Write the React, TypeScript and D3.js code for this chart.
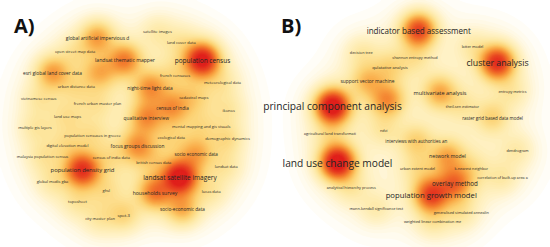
import React, { useMemo } from "react";
import * as d3 from "d3";

const W = 550;
const H = 247;

// Panel A: item labels, map coordinates and occurrence weights
const labelsA = [
  "satellite images", "global artificial impervious d", "land cover data", "open street map data",
  "landsat thematic mapper", "population census", "esri global land cover data", "french censuses",
  "meteorological data", "urban distance data", "night-time light data", "cadastral maps",
  "vietnamese census", "french urban master plan", "census of india", "ikonos", "land use maps",
  "qualitative interview", "multiple gis layers", "mental mapping and gis visuals",
  "population censuses in greece", "ecological data", "demographic dynamics", "digital elevation model",
  "focus groups discussion", "socio economic data", "malaysia population census", "census of india data",
  "british census data", "landsat data", "population density grid", "landsat satellite imagery",
  "global modis gba", "ghsl", "households survey", "lucas data", "toposheet", "socio-economic data",
  "spot-3", "city master plan", "",
];
const xA = [
  0.18, -0.30, 0.37, -0.48, -0.08, 0.54, -0.66, 0.32, 0.70, -0.47, 0.12, 0.47, -0.77, -0.30, 0.30,
  0.75, -0.54, 0.09, -0.80, 0.53, -0.34, 0.29, 0.74, -0.54, 0.02, 0.49, -0.74, -0.19, 0.15, 0.73,
  -0.42, 0.36, -0.66, -0.23, 0.16, 0.61, -0.46, 0.38, -0.09, -0.28, -0.28,
];
const yA = [
  0.75, 0.70, 0.66, 0.59, 0.52, 0.52, 0.42, 0.40, 0.34, 0.31, 0.30, 0.22, 0.21, 0.17, 0.14, 0.12,
  0.07, 0.06, -0.02, -0.01, -0.08, -0.10, -0.11, -0.16, -0.17, -0.23, -0.25, -0.26, -0.30, -0.33,
  -0.36, -0.42, -0.45, -0.52, -0.54, -0.53, -0.61, -0.67, -0.72, -0.75, 0.42,
];
const weightA = [
  1, 4, 1, 1, 5, 10, 4, 1, 1, 1, 4, 1.5, 1, 1, 3.5, 1, 1, 4, 1, 1, 1, 1, 1.5, 1, 4, 3, 1, 1, 1, 1,
  8, 10, 1, 1, 5, 1, 1, 3.5, 2, 1, 3,
];

// Panel B
const labelsB = [
  "indicator based assessment", "latter model", "decision tree", "shannon entropy method",
  "cluster analysis", "qulatative analysis", "support vector machine", "multivariate analysis",
  "entropy metrics", "principal component analysis", "theil-sen estimator", "raster grid based data model",
  "ndvi", "agricultural land transformati", "interviews with authorities an", "dendrogram",
  "network model", "land use change model", "urban extent model", "k-nearest neighbor",
  "correlation of built-up area a", "overlay method", "analytical hierarchy process",
  "population growth model", "mann-kendall significance test", "generalised simulated annealin",
  "weighted linear combination me", "",
];
const xB = [
  0.07, 0.50, -0.39, 0.04, 0.70, -0.16, -0.34, 0.24, 0.82, -0.62, 0.42, 0.66, -0.21, -0.64, 0.05,
  0.86, 0.30, -0.58, 0.06, 0.49, 0.74, 0.36, -0.47, 0.17, -0.27, 0.41, 0.18, -0.18,
];
const yB = [
  0.76, 0.63, 0.58, 0.54, 0.50, 0.46, 0.35, 0.26, 0.27, 0.15, 0.15, 0.06, -0.04, -0.07, -0.13,
  -0.20, -0.25, -0.30, -0.35, -0.35, -0.42, -0.47, -0.50, -0.56, -0.67, -0.70, -0.77, 0.20,
];
const weightB = [
  7, 1, 1, 1, 8, 1.5, 2.5, 3.5, 1, 10, 1, 2, 1, 1, 2, 1, 3, 10, 1, 1, 1, 4.5, 1, 6.5, 1, 1, 1, 4,
];

const heat = d3
  .scaleLinear<string>()
  .domain([0, 0.03, 0.08, 0.17, 0.27, 0.38, 0.5, 0.66, 0.85])
  .range(["#ffffff", "#fffaea", "#fff2c8", "#fde7a0", "#fcd273", "#f9ab48", "#f37f2e", "#e94b23", "#e0201c"])
  .clamp(true);

interface PanelProps {
  tag: string;
  tagX: number;
  labels: string[];
  xs: number[];
  ys: number[];
  ws: number[];
  cx: number;
  font: d3.ScaleLinear<number, number>;
}

const Panel: React.FC<PanelProps> = ({ tag, tagX, labels, xs, ys, ws, cx, font }) => {
  const x = d3.scaleLinear().domain([-1, 1]).range([cx - 125, cx + 125]);
  const y = d3.scaleLinear().domain([-1, 1]).range([250, 0]);

  const step = 2;
  const gw = Math.ceil(W / step);
  const gh = Math.ceil(H / step);

  const contours = useMemo(() => {
    const px = xs.map((v) => x(v));
    const py = ys.map((v) => y(v));
    const values = new Array(gw * gh).fill(0);
    const s1 = 2 * 11 * 11;
    const s2 = 2 * 23 * 23;
    for (let j = 0; j < gh; j++) {
      const gy = (j + 0.5) * step;
      for (let i = 0; i < gw; i++) {
        const gx = (i + 0.5) * step;
        let d = 0;
        for (let k = 0; k < px.length; k++) {
          const r2 = (gx - px[k]) ** 2 + (gy - py[k]) ** 2;
          d += ws[k] * Math.exp(-r2 / s1) + (0.4 + 0.06 * ws[k]) * Math.exp(-r2 / s2);
        }
        values[j * gw + i] = d;
      }
    }
    const max = d3.max(values) || 1;
    const levels = d3.range(0.012, 1.0001, 0.012);
    return d3
      .contours()
      .size([gw, gh])
      .thresholds(levels.map((t) => t * max))(values)
      .map((c, i) => ({ c, t: levels[i] }));
  }, [xs, ys, ws]);

  const path = d3.geoPath();
  const order = d3.range(labels.length).sort((a, b) => ws[a] - ws[b]);

  return (
    <g>
      <g transform={`scale(${step})`}>
        {contours.map(({ c, t }, i) => (
          <path key={i} d={path(c as any) || ""} fill={heat(t)} />
        ))}
      </g>
      {order.map((k) =>
        labels[k] ? (
          <text
            key={k}
            x={x(xs[k])}
            y={y(ys[k])}
            textAnchor="middle"
            dominantBaseline="central"
            fontFamily="'Open Sans', sans-serif"
            fontSize={font(ws[k])}
            fill="#262626"
          >
            {labels[k]}
          </text>
        ) : null
      )}
      <text x={tagX} y={33} fontFamily="'Open Sans', sans-serif" fontWeight="bold" fontSize={20} fill="#111">
        {tag}
      </text>
    </g>
  );
};

export default function App() {
  const fontA = d3.scaleLinear().domain([1, 10]).range([4.0, 6.5]);
  const fontB = d3.scaleLinear().domain([1, 10]).range([3.8, 10.2]);
  return (
    <svg
      width={W}
      height={H}
      style={{ position: "absolute", left: 0, top: 0, background: "#fff" }}
    >
      <Panel tag="A)" tagX={14} labels={labelsA} xs={xA} ys={yA} ws={weightA} cx={135} font={fontA} />
      <Panel tag="B)" tagX={281} labels={labelsB} xs={xB} ys={yB} ws={weightB} cx={410} font={fontB} />
    </svg>
  );
}
